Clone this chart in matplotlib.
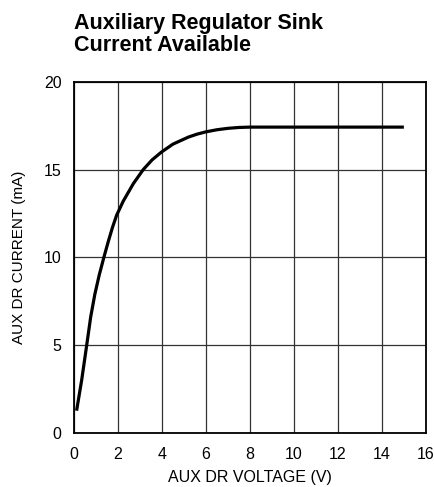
import numpy as np
import matplotlib.pyplot as plt

# values
voltage = [0.12, 0.35, 0.58, 0.76, 0.95, 1.15, 1.36, 1.56, 1.75, 1.94, 2.24, 2.7, 3.15, 3.55, 3.98,
           4.5, 5.2, 5.6, 6.0, 6.5, 7.0, 7.5, 8.0, 10.0, 12.0, 15.0]
current = [1.27, 3.0, 5.0, 6.6, 7.9, 9.0, 10.0, 10.9, 11.7, 12.4, 13.2, 14.2, 15.0, 15.55, 16.0,
           16.45, 16.85, 17.02, 17.15, 17.27, 17.35, 17.4, 17.42, 17.42, 17.42, 17.42]
xticks = [0, 2, 4, 6, 8, 10, 12, 14, 16]
yticks = [0, 5, 10, 15, 20]

plt.rcParams['font.family'] = ['Liberation Sans', 'DejaVu Sans']

fig = plt.figure(figsize=(4.35, 4.87), dpi=100)
ax = fig.add_axes([0.170, 0.111, 0.809, 0.721])

ax.plot(voltage, current, color='black', lw=2.3, solid_capstyle='butt', solid_joinstyle='round')
ax.set_xlim(0, 16)
ax.set_ylim(0, 20)
ax.set_xticks(xticks)
ax.set_yticks(yticks)
ax.grid(True, color='#333333', lw=0.9)
ax.tick_params(length=0, labelsize=11.5)
ax.tick_params(axis='x', pad=10)
ax.tick_params(axis='y', pad=9)
for s in ax.spines.values():
    s.set_linewidth(1.3)
ax.set_xlabel("AUX DR VOLTAGE (V)", fontsize=11.5, labelpad=6)
ax.set_ylabel("AUX DR CURRENT (mA)", fontsize=11, labelpad=13)

fig.text(0.170, 0.974, "Auxiliary Regulator Sink\nCurrent Available", fontsize=15.5,
         fontweight='bold', ha='left', va='top', linespacing=1.1)

fig.savefig("out.png", dpi=100)
